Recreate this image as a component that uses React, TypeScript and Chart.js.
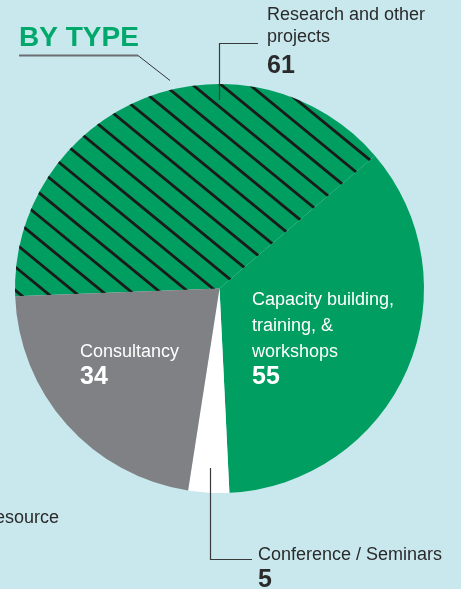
import React, { useEffect, useRef } from "react";
import { Chart, registerables } from "chart.js";
Chart.register(...registerables);

// ---- data ----
const categories = [
  "Research and other projects",
  "Capacity building, training, & workshops",
  "Conference / Seminars",
  "Consultancy",
];
const values = [61, 55, 5, 34];
const labelLines = [
  ["Research and other", "projects"],
  ["Capacity building,", "training, &", "workshops"],
  ["Conference / Seminars"],
  ["Consultancy"],
];
const titleText = "BY TYPE";
const sideText = "Resource";

// ---- styles / layout ----
const BG = "#c8e8ee";
const GREEN = "#009e60";
const TITLE_GREEN = "#00a86b";
const GRAY = "#808185";
const DARK = "#2a2a2a";
const FONT = '"Liberation Sans", Arial, sans-serif';
const HATCH = { slope: 0.82, spacing: 23.4, phase: 20.4, width: 2.8, color: "#1a1a1a" };

const labelLayout = [
  { x: 267, y: 20, gap: 22, numY: 73, color: DARK },
  { x: 252, y: 305, gap: 26, numY: 384, color: "#ffffff" },
  { x: 258, y: 560, gap: 22, numY: 587, color: DARK },
  { x: 80, y: 357, gap: 26, numY: 384, color: "#ffffff" },
];

const annotations = {
  id: "annotations",
  afterDatasetsDraw(chart: any) {
    const ctx: CanvasRenderingContext2D = chart.ctx;
    const W = chart.width;
    const H = chart.height;

    // hatch over the first slice
    const arc = chart.getDatasetMeta(0).data[0];
    const p = arc.getProps(["x", "y", "startAngle", "endAngle", "outerRadius"], true);
    ctx.save();
    ctx.beginPath();
    ctx.moveTo(p.x, p.y);
    ctx.arc(p.x, p.y, p.outerRadius, p.startAngle, p.endAngle);
    ctx.closePath();
    ctx.clip();
    ctx.strokeStyle = HATCH.color;
    ctx.lineWidth = HATCH.width;
    for (let k = -40; k <= 40; k++) {
      const c = HATCH.phase + k * HATCH.spacing;
      ctx.beginPath();
      ctx.moveTo(-50, -50 * HATCH.slope + c);
      ctx.lineTo(W + 50, (W + 50) * HATCH.slope + c);
      ctx.stroke();
    }
    ctx.restore();

    ctx.save();
    // title
    ctx.fillStyle = TITLE_GREEN;
    ctx.font = `bold 28px ${FONT}`;
    ctx.textBaseline = "alphabetic";
    ctx.fillText(titleText, 19, 46);
    ctx.strokeStyle = "#6d6e71";
    ctx.lineWidth = 2;
    ctx.beginPath();
    ctx.moveTo(19, 55.5);
    ctx.lineTo(138, 55.5);
    ctx.stroke();
    ctx.strokeStyle = "#333";
    ctx.lineWidth = 1;
    ctx.beginPath();
    ctx.moveTo(138, 55.5);
    ctx.lineTo(170, 80.5);
    ctx.stroke();

    // leader lines
    ctx.strokeStyle = "#3a3a3a";
    ctx.lineWidth = 1.2;
    ctx.beginPath();
    ctx.moveTo(219.5, 100);
    ctx.lineTo(219.5, 43.5);
    ctx.lineTo(258, 43.5);
    ctx.stroke();
    ctx.beginPath();
    ctx.moveTo(210.5, 468);
    ctx.lineTo(210.5, 559.5);
    ctx.lineTo(252, 559.5);
    ctx.stroke();

    // labels
    labelLines.forEach((lines, i) => {
      const L = labelLayout[i];
      ctx.fillStyle = L.color;
      ctx.font = `18px ${FONT}`;
      lines.forEach((s, j) => ctx.fillText(s, L.x, L.y + j * L.gap));
      ctx.font = `bold 25px ${FONT}`;
      ctx.fillText(String(values[i]), L.x, L.numY);
    });

    ctx.fillStyle = DARK;
    ctx.font = `18px ${FONT}`;
    ctx.fillText(sideText, -18, 523);
    ctx.restore();
    void H;
  },
};

export default function App() {
  const ref = useRef<HTMLCanvasElement>(null);
  useEffect(() => {
    const canvas = ref.current!;
    const chart = new Chart(canvas, {
      type: "pie",
      data: {
        labels: categories,
        datasets: [
          {
            data: values,
            backgroundColor: [GREEN, GREEN, "#ffffff", GRAY],
            borderWidth: 0,
          },
        ],
      },
      options: {
        animation: false,
        responsive: false,
        devicePixelRatio: 1,
        rotation: -92.2,
        layout: { padding: { left: 15, right: 37, top: 84, bottom: 96 } },
        plugins: { legend: { display: false }, tooltip: { enabled: false } },
      },
      plugins: [annotations],
    });
    return () => chart.destroy();
  }, []);
  return (
    <div
      style={{
        position: "fixed",
        left: 0,
        top: 0,
        width: 461,
        height: 589,
        background: BG,
        overflow: "hidden",
      }}
    >
      <canvas ref={ref} width={461} height={589} style={{ display: "block" }} />
    </div>
  );
}
